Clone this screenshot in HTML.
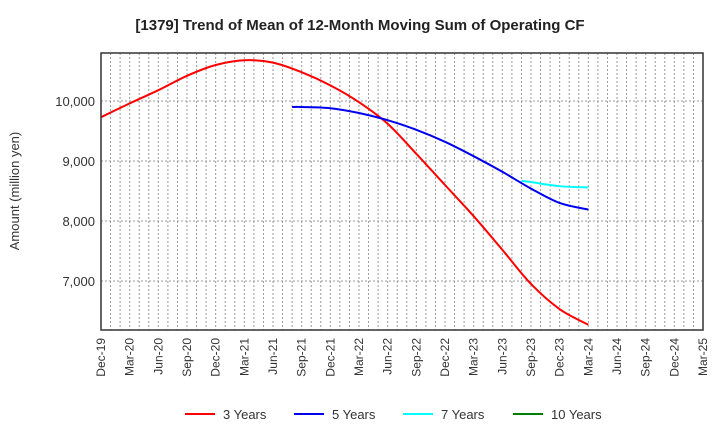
<!DOCTYPE html>
<html><head><meta charset="utf-8"><style>
body{margin:0;background:#fff;font-family:"Liberation Sans",Arial,sans-serif}
</style></head><body>
<svg id="c" width="720" height="440" xmlns="http://www.w3.org/2000/svg">
<text x="360" y="30" text-anchor="middle" font-size="15" font-weight="bold" fill="#222">[1379]  Trend of Mean of 12-Month Moving Sum of Operating CF</text>
<text transform="translate(19,191) rotate(-90)" text-anchor="middle" font-size="13" fill="#333">Amount (million yen)</text>
<g id="grid"></g><g id="series"></g><g id="axes"></g>
</svg>
<script>
const xLabels=["Dec-19","Mar-20","Jun-20","Sep-20","Dec-20","Mar-21","Jun-21","Sep-21","Dec-21","Mar-22","Jun-22","Sep-22","Dec-22","Mar-23","Jun-23","Sep-23","Dec-23","Mar-24","Jun-24","Sep-24","Dec-24","Mar-25"];
const yTicks=[7000,8000,9000,10000];
const s3Months=[0,3,6,9,12,15,18,21,24,27,30,33,36,39,42,45,48,51];
const s3Values=[9730,9960,10180,10420,10600,10680,10640,10480,10260,9980,9620,9120,8600,8080,7520,6950,6530,6270];
const s5Months=[20,21,24,27,30,33,36,39,42,45,48,51];
const s5Values=[9900,9900,9880,9800,9680,9520,9320,9080,8820,8540,8300,8190];
const s7Months=[44,45,48,51];
const s7Values=[8670,8650,8580,8560];
const legendNames=["3 Years","5 Years","7 Years","10 Years"];
const colors=["#ff0000","#0000ee","#00ffff","#008000"];
const L=101,R=703,T=53,B=330,NM=63,yMin=6183,yMax=10800;
const X=m=>L+(R-L)*m/NM, Y=v=>B-(B-T)*(v-yMin)/(yMax-yMin);
const NS="http://www.w3.org/2000/svg";
function mk(t,a,p){const e=document.createElementNS(NS,t);for(const k in a)e.setAttribute(k,a[k]);p.appendChild(e);return e;}
const g=document.getElementById('grid'),ax=document.getElementById('axes'),sg=document.getElementById('series');
for(let m=1;m<NM;m++){const l=mk('line',{x1:X(m),x2:X(m),y1:T,y2:B,stroke:'#999','stroke-dasharray':'2,2','stroke-width':1},g);

}
yTicks.forEach(v=>{const l=mk('line',{x1:L,x2:R,y1:Y(v),y2:Y(v),stroke:'#999','stroke-dasharray':'2,2'},g);


const t=mk('text',{x:L-6,y:Y(v)+5,'text-anchor':'end','font-size':13,fill:'#333'},ax);t.textContent=v.toLocaleString('en-US');

});
const fr=mk('rect',{x:L,y:T,width:R-L,height:B-T,fill:'none',stroke:'#333','stroke-width':1.5},ax);


xLabels.forEach((s,i)=>{const x=X(i*3);const t=mk('text',{transform:`translate(${x+4},${B+8}) rotate(-90)`,'text-anchor':'end','font-size':12,fill:'#333'},ax);t.textContent=s;

});
function path(ms,vs){const p=ms.map((m,i)=>[X(m),Y(vs[i])]);let d=`M${p[0][0]},${p[0][1]}`;
for(let i=0;i<p.length-1;i++){const p0=p[i-1]||p[i],p1=p[i],p2=p[i+1],p3=p[i+2]||p2;
d+=` C${p1[0]+(p2[0]-p0[0])/6},${p1[1]+(p2[1]-p0[1])/6} ${p2[0]-(p3[0]-p1[0])/6},${p2[1]-(p3[1]-p1[1])/6} ${p2[0]},${p2[1]}`;}return d;}
[[s3Months,s3Values],[s5Months,s5Values],[s7Months,s7Values]].forEach((s,i)=>{const e=mk('path',{d:path(s[0],s[1]),fill:'none',stroke:colors[i],'stroke-width':2},sg);

});
const lx=[185,294,403,513];
legendNames.forEach((n,i)=>{const ln=mk('line',{x1:lx[i],x2:lx[i]+30,y1:414,y2:414,stroke:colors[i],'stroke-width':2},ax);


const t=mk('text',{x:lx[i]+38,y:419,'font-size':13,fill:'#333'},ax);t.textContent=n;

});
</script>
</body></html>
